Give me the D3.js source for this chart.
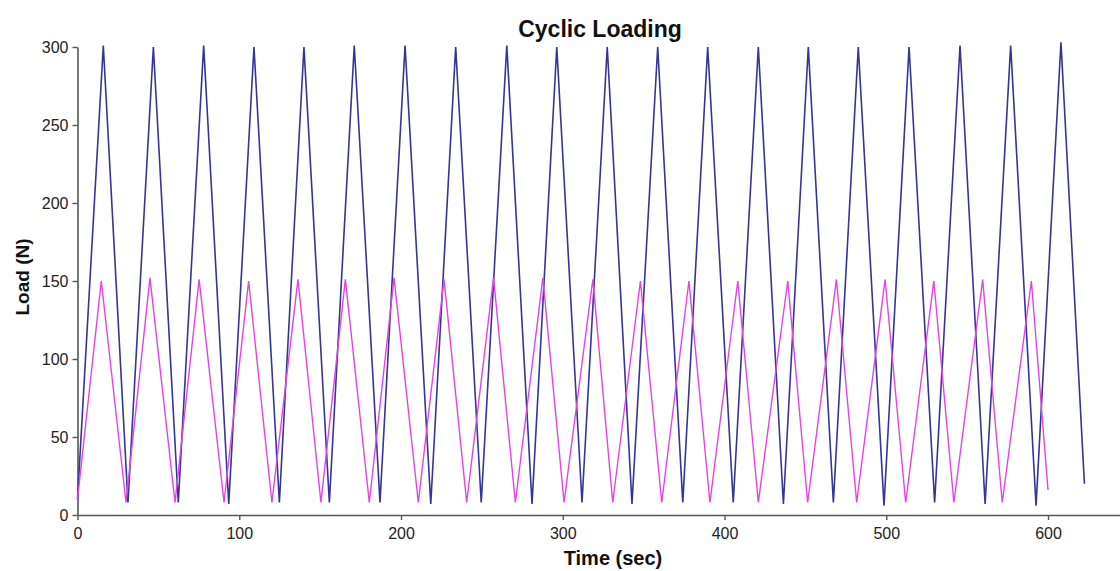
<!DOCTYPE html>
<html>
<head>
<meta charset="utf-8">
<script src="https://cdn.jsdelivr.net/npm/d3@7"></script>
<style>
  html, body { margin: 0; padding: 0; background: #fff; }
  svg { display: block; font-family: Arial, "Liberation Sans", sans-serif; }
</style>
</head>
<body>
<svg id="chart" width="1120" height="571"></svg>
<script>
// ---- Data (vertices) ----
const chartTitle = "Cyclic Loading";
const xLabel = "Time (sec)";
const yLabel = "Load (N)";
const xTicks = [0, 100, 200, 300, 400, 500, 600];
const yTicks = [0, 50, 100, 150, 200, 250, 300];

// Blue series (300 N cycles)
const blueTime = [0, 15.95, 31.2, 46.9, 62.3, 78.0, 93.5, 109.1, 124.8, 140.0, 155.7,
  171.1, 187.0, 202.5, 218.4, 233.8, 249.6, 265.4, 281.0, 296.3, 311.9, 327.5, 342.8,
  358.7, 374.2, 389.6, 405.4, 420.9, 436.4, 451.8, 467.3, 482.7, 498.6, 514.1, 529.9,
  545.6, 561.1, 576.9, 592.6, 608.0, 622.5];
const blueLoad = [10, 301, 8, 300, 8, 301, 7, 300, 8, 300, 8, 301, 8, 301, 7, 300, 8,
  301, 7, 300, 8, 300, 7, 300, 8, 300, 8, 300, 7, 300, 8, 300, 6, 300, 8, 301, 7, 301,
  6, 303, 20];

// Magenta series (150 N cycles)
const magTime = [0, 14.7, 30.0, 44.8, 60.3, 75.2, 90.6, 105.8, 120.2, 136.3, 150.5,
  165.6, 180.4, 195.7, 210.7, 226.6, 240.6, 257.2, 270.7, 287.7, 300.8, 318.6, 330.9,
  348.0, 361.2, 378.0, 391.0, 408.2, 420.9, 439.1, 451.4, 469.2, 481.7, 499.3, 512.0,
  529.4, 541.8, 559.6, 571.7, 589.7, 600];
const magLoad = [10, 150, 8, 152, 8, 151, 8, 150, 8, 151, 8, 151, 8, 152, 8, 151, 8,
  152, 8, 152, 8, 151, 8, 150, 8, 150, 8, 150, 8, 150, 8, 151, 8, 151, 8, 150, 8, 151,
  8, 150, 16];

// ---- Drawing ----
const svg = d3.select("#chart");
const x = d3.scaleLinear().domain([0, 644.5]).range([77.5, 1120]);
const y = d3.scaleLinear().domain([0, 300]).range([515, 47]);

const axisColor = "#555";
const textColor = "#222";

// X axis
const gx = svg.append("g").attr("transform", "translate(0,515)")
  .call(d3.axisBottom(x).tickValues(xTicks).tickSize(5).tickSizeOuter(0).tickPadding(8));
gx.select(".domain").attr("stroke", axisColor).attr("stroke-width", 1.6);
gx.selectAll(".tick line").attr("stroke", axisColor).attr("stroke-width", 1.4);
gx.selectAll(".tick text").attr("fill", textColor).style("font-size", "16px")
  .style("font-family", "Arial, 'Liberation Sans', sans-serif");

// Y axis
const gy = svg.append("g").attr("transform", "translate(77.5,0)")
  .call(d3.axisLeft(y).tickValues(yTicks).tickSize(5).tickSizeOuter(0).tickPadding(4));
gy.select(".domain").attr("stroke", axisColor).attr("stroke-width", 1.6);
gy.selectAll(".tick line").attr("stroke", axisColor).attr("stroke-width", 1.4);
gy.selectAll(".tick text").attr("fill", textColor).style("font-size", "16px")
  .style("font-family", "Arial, 'Liberation Sans', sans-serif");

const blueData = blueTime.map((t, i) => [t, blueLoad[i]]);
const magData = magTime.map((t, i) => [t, magLoad[i]]);
const line = d3.line().x(d => x(d[0])).y(d => y(d[1]));

svg.append("path").datum(blueData).attr("d", line)
  .attr("fill", "none").attr("stroke", "#34349a").attr("stroke-width", 1.6)
  .attr("stroke-linejoin", "miter");
svg.append("path").datum(magData).attr("d", line)
  .attr("fill", "none").attr("stroke", "#e244e2").attr("stroke-width", 1.4)
  .attr("stroke-linejoin", "miter");

// Titles
svg.append("text").attr("x", 600).attr("y", 37).attr("text-anchor", "middle")
  .attr("fill", "#111").style("font-size", "23px").style("font-weight", "bold")
  .text(chartTitle);
svg.append("text").attr("x", 613).attr("y", 565).attr("text-anchor", "middle")
  .attr("fill", "#111").style("font-size", "20px").style("font-weight", "bold")
  .text(xLabel);
svg.append("text").attr("transform", "translate(29,277) rotate(-90)")
  .attr("text-anchor", "middle")
  .attr("fill", "#111").style("font-size", "19px").style("font-weight", "bold")
  .text(yLabel);
</script>
</body>
</html>
